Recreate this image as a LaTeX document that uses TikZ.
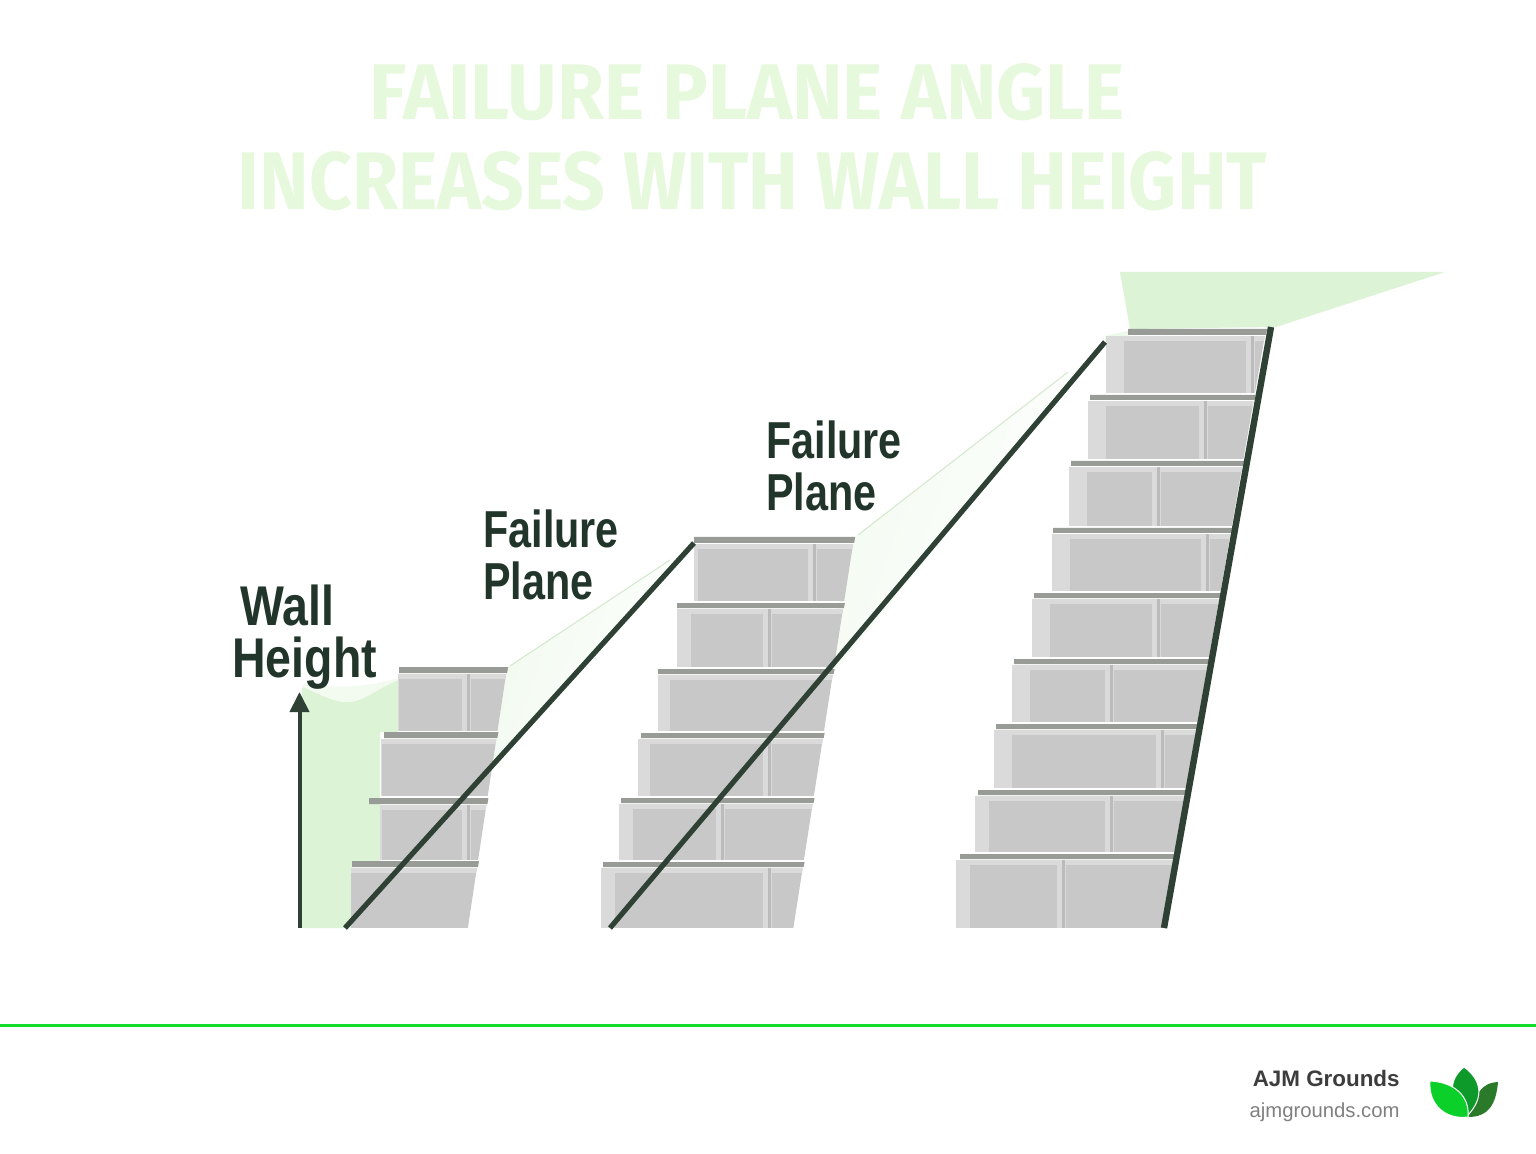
\documentclass[tikz,border=0pt]{standalone}
\usepackage{fontspec}
\usetikzlibrary{arrows.meta}
\setmainfont{Liberation Sans}
\newfontfamily\labelfont[FakeStretch=0.83]{Liberation Sans}
\newfontfamily\planefont[FakeStretch=0.795]{Liberation Sans}
\newfontfamily\titlefont{Fira Sans}
\definecolor{ink}{HTML}{22352A}
\definecolor{linegreen}{HTML}{2F4035}
\definecolor{softgreen}{HTML}{DCF3D6}
\definecolor{titlegreen}{HTML}{E6F9DC}
\definecolor{rulegreen}{HTML}{14DC2C}
\definecolor{blockbody}{HTML}{C8C8C8}
\definecolor{blocklight}{HTML}{DADADA}
\definecolor{blockshade}{HTML}{BBBBBB}
\definecolor{capgrey}{HTML}{999B97}
\newcommand{\rightedge}[3]{\def\rx{#1}\def\ry{#2}\def\rk{#3}}
% args: cap top, body top, body bottom, cap left, body left, joint x (or 0 for none), left band width
\newcommand{\course}[7]{%
  \pgfmathsetmacro{\xa}{\rx+\rk*(#1-\ry)}%
  \pgfmathsetmacro{\xb}{\rx+\rk*(#2-\ry)}%
  \pgfmathsetmacro{\xc}{\rx+\rk*(#3-\ry)}%
  \begin{scope}
    \clip (#5,#2) -- (\xb,#2) -- (\xc,#3) -- (#5,#3) -- cycle;
    \fill[blockbody] (#5,#2) rectangle (\xb+5,#3);
    \fill[blocklight] (#5,#2) rectangle (#5+#7,#3);
    \fill[blocklight] (#5,#2) rectangle (\xb+5,#2+5);
    \ifnum#6>0
      \fill[blocklight] (#6-4,#2) rectangle (#6+1,#3);
      \fill[blockshade] (#6+1,#2) rectangle (#6+4,#3);
      \fill[blocklight] (#6+4,#2) rectangle (#6+5,#3);
    \fi
  \end{scope}
  \fill[capgrey] (#4,#1) -- (\xa+1,#1) -- (\xa,#2-1) -- (#4,#2-1) -- cycle;
}
\begin{document}
\begin{tikzpicture}[x=0.5pt,y=-0.5pt,
  failure/.style={draw=linegreen,line width=2.6pt},
  labeltext/.style={text=ink,inner sep=0pt},
  headtext/.style={text=titlegreen,inner sep=0pt,font=\titlefont\bfseries}]
\path[use as bounding box,fill=white] (0,0) rectangle (1536,1154);

% title
\node[headtext] (title1) at (747.5,92) {\resizebox{377.5pt}{28pt}{FAILURE PLANE ANGLE}};
\node[headtext] (title2) at (752.5,181) {\resizebox{514.5pt}{29pt}{INCREASES WITH WALL HEIGHT}};

% green zones
\fill[softgreen] (302,928) -- (352,928) -- (352,861) -- (380,861) -- (380,732) -- (398,732) -- (398,680)
  .. controls (375,690) and (362,702) .. (348,702) .. controls (330,702) and (318,692) .. (302,687) -- cycle;
\fill[softgreen!35] (302,687) .. controls (318,692) and (330,702) .. (348,702) .. controls (362,702) and (375,690) .. (398,680) -- (398,678) .. controls (370,686) and (340,690) .. (305,683) -- cycle;
\fill[softgreen] (1120,272) -- (1445,272) -- (1276,327) -- (1130,329) -- cycle;
\fill[softgreen!50] (1105,336) -- (1128,331) -- (1128,337) -- (1105,342) -- cycle;

% pale wedges
\shade[left color=softgreen!40,right color=white,shading angle=70] (507,667) -- (692,546) -- (492,767) -- (497,735) -- cycle;
\draw[softgreen!90!gray,line width=0.5pt] (510,666) -- (670,560);
\shade[left color=softgreen!35,right color=white,shading angle=70] (855,537) -- (1095,352) -- (826,682) -- (835,620) -- cycle;
\draw[softgreen!90!gray,line width=0.5pt] (858,535) -- (1068,372);

% wall 1
\rightedge{507}{668}{-0.1505}
\course{861}{868}{928}{352}{351}{0}{0}
\course{798}{805}{860}{369}{380}{466}{2}
\course{732}{739}{796}{384}{381}{0}{1}
\course{667}{674}{731}{399}{398}{466}{1}

% wall 2
\rightedge{854}{538}{-0.1555}
\course{862}{868}{928}{603}{601}{767}{14}
\course{798}{804}{860}{621}{619}{720}{14}
\course{733}{739}{796}{641}{638}{767}{12}
\course{669}{675}{731}{658}{658}{0}{12}
\course{603}{609}{667}{677}{677}{767}{14}
\course{537}{544}{601}{694}{694}{812}{4}

% wall 3
\rightedge{1266}{329}{-0.1735}
\course{854}{860}{928}{960}{956}{1061}{14}
\course{790}{796}{852}{978}{975}{1109}{14}
\course{724}{730}{788}{996}{994}{1160}{18}
\course{659}{665}{722}{1014}{1012}{1109}{18}
\course{593}{599}{657}{1034}{1032}{1156}{18}
\course{528}{534}{591}{1053}{1052}{1205}{18}
\course{461}{467}{526}{1071}{1069}{1156}{18}
\course{395}{401}{459}{1090}{1088}{1203}{18}
\course{329}{336}{393}{1128}{1106}{1250}{18}

% connectors
\coordinate (f1a) at (345,928);
\coordinate (f1b) at (694,543);
\coordinate (f2a) at (610,928);
\coordinate (f2b) at (1105,342);
\coordinate (f3a) at (1164,928);
\coordinate (f3b) at (1271,327);
\coordinate (hbase) at (299.5,928);
\coordinate (htip) at (299.5,692);
\draw[failure] (f1a) -- (f1b);
\draw[failure] (f2a) -- (f2b);
\draw[draw=linegreen,line width=3.2pt] (f3a) -- (f3b);
\draw[draw=linegreen,line width=2pt,-{Triangle[width=9.5pt,length=10pt]}] (hbase) -- (htip);

% labels
\node[labeltext,align=left,anchor=north west,font=\labelfont\bfseries\fontsize{28}{26}\selectfont] (wall) at (232,585) {\hspace{4pt}Wall\\Height};
\node[labeltext,align=left,anchor=north west,font=\planefont\bfseries\fontsize{26}{26}\selectfont] (fp1) at (483,509) {Failure\\Plane};
\node[labeltext,align=left,anchor=north west,font=\planefont\bfseries\fontsize{26}{26}\selectfont] (fp2) at (766,420) {Failure\\Plane};

% footer
\draw[rulegreen,line width=1.6pt] (0,1025.5) -- (1536,1025.5);
\node[anchor=base east,inner sep=0pt,text=black!76,font=\bfseries\fontsize{11.2}{13}\selectfont] (brand) at (1400,1086) {AJM Grounds};
\node[anchor=base east,inner sep=0pt,text=black!50,font=\fontsize{10.15}{12}\selectfont] (site) at (1400,1117) {ajmgrounds.com};

% logo
\fill[fill={rgb,255:red,42;green,122;blue,42}] (1498,1082) .. controls (1480,1083) and (1476,1095) .. (1468,1117) .. controls (1488,1117) and (1496,1105) .. (1498,1082) -- cycle;
\filldraw[fill={rgb,255:red,14;green,154;blue,42},draw=white,line width=0.5pt] (1464,1067) .. controls (1448,1080) and (1448,1098) .. (1468,1115) .. controls (1484,1098) and (1482,1080) .. (1464,1067) -- cycle;
\filldraw[fill={rgb,255:red,12;green,208;blue,42},draw=white,line width=0.5pt] (1430,1081) .. controls (1428,1105) and (1446,1120) .. (1468,1117) .. controls (1470,1096) and (1454,1082) .. (1430,1081) -- cycle;
\end{tikzpicture}
\end{document}
